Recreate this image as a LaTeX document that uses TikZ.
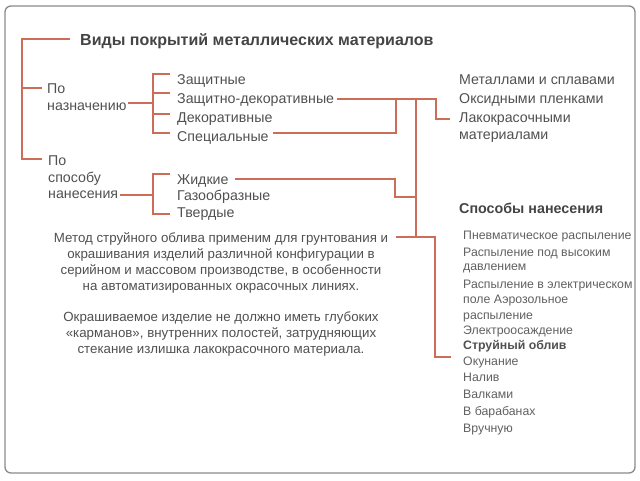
\documentclass[tikz,border=0pt]{standalone}
\usepackage{fontspec}
\setmainfont{Liberation Sans}
\usetikzlibrary{calc}
\definecolor{ln}{HTML}{CC6E57}
\definecolor{frm}{HTML}{8A8A8A}
\definecolor{tx}{HTML}{505050}
\definecolor{tl}{HTML}{606060}
\tikzset{
  conn/.style={draw=ln, line width=1.1pt},
  lbl/.style={anchor=base west, inner sep=0pt, text=tx, font=\fontsize{14.2}{16.5}\selectfont, align=left},
  mlbl/.style={lbl, anchor=north west},
  ttl/.style={anchor=base west, inner sep=0pt, text=tx!85!black, font=\fontsize{16}{18}\selectfont\bfseries},
  itm/.style={anchor=base west, inner sep=0pt, text=tl, font=\fontsize{12.3}{15}\selectfont},
  par/.style={anchor=north, inner sep=0pt, text=tx, font=\fontsize{13.3}{15.9}\selectfont, align=center}
}
\begin{document}
\begin{tikzpicture}[x=1pt,y=-1pt]
\useasboundingbox (0,0) rectangle (640,480);
\draw[frm, line width=1.3pt, rounded corners=6pt] (5,6) rectangle (635,473);

% titles and labels
\node[ttl] (title) at (80,45) {Виды покрытий металлических материалов};
\node[mlbl] (nazn) at (47,83.8) {По\\назначению};
\node[mlbl] (spos) at (48,155.8) {По\\способу\\нанесения};

\node[lbl] (z1) at (177,84) {Защитные};
\node[lbl] (z2) at (177,103) {Защитно-декоративные};
\node[lbl] (z3) at (177,122) {Декоративные};
\node[lbl] (z4) at (177,141) {Специальные};

\node[lbl] (g1) at (177,184) {Жидкие};
\node[lbl] (g2) at (177,200.5) {Газообразные};
\node[lbl] (g3) at (177,217) {Твердые};

\node[lbl] (m1) at (459,84) {Металлами и сплавами};
\node[lbl] (m2) at (459,103) {Оксидными пленками};
\node[mlbl, font=\fontsize{14.2}{17}\selectfont] (m3) at (459,112.8) {Лакокрасочными\\материалами};

\node[ttl, font=\fontsize{14.3}{17}\selectfont\bfseries] (sp) at (459,213) {Способы нанесения};

\node[itm] (s1) at (463,239.5) {Пневматическое распыление};
\node[itm] (s2) at (463,256.7) {Распыление под высоким};
\node[itm] (s3) at (463,270.7) {давлением};
\node[itm] (s4) at (463,288.3) {Распыление в электрическом};
\node[itm] (s5) at (463,303.3) {поле Аэрозольное};
\node[itm] (s6) at (463,319.3) {распыление};
\node[itm] (s7) at (463,334.3) {Электроосаждение};
\node[itm, font=\fontsize{12.3}{15}\selectfont\bfseries, text=tx] (s8) at (463,349) {Струйный облив};
\node[itm] (s9) at (463,365) {Окунание};
\node[itm] (s10) at (463,381.7) {Налив};
\node[itm] (s11) at (463,398.3) {Валками};
\node[itm] (s12) at (463,415.7) {В барабанах};
\node[itm] (s13) at (463,432.3) {Вручную};

\node[par] (p1) at (221,232.7) {Метод струйного облива применим для грунтования и\\окрашивания изделий различной конфигурации в\\серийном и массовом производстве, в особенности\\на автоматизированных окрасочных линиях.};
\node[par] (p2) at (221,311.7) {Окрашиваемое изделие не должно иметь глубоких\\«карманов», внутренних полостей, затрудняющих\\стекание излишка лакокрасочного материала.};

% main bracket
\coordinate (bb) at (22,159);
\draw[conn] (70,39) coordinate (tl) -| (bb) -- (42,159);
\draw[conn] (22,88) -- (42,88);

% bracket by purpose
\draw[conn] (128,103) -- (153,103);
\draw[conn] (170,74) -- (153,74) -- (153,133) -- (170,133);
\draw[conn] (153,93) -- (170,93);
\draw[conn] (153,114) -- (170,114);

% bracket by method
\draw[conn] (120,195) -- (153,195);
\draw[conn] (170,174) -- (153,174) -- (153,214) -- (170,214);

% middle connectors
\coordinate (ja) at (396,99);
\coordinate (jb) at (416,99);
\coordinate (jc) at (416,237);
\draw[conn] (337,99) -- (436,99) -- (436,119) -- (450,119);
\draw[conn] (273,133) -- (396,133) -- (ja);
\draw[conn] (jb) -- (jc);
\draw[conn] (235,179) -- (395,179) -- (395,197) -- (416,197);
\draw[conn] (396,237) -- (435,237) -- (435,357) -- (451,357);
\end{tikzpicture}
\end{document}
